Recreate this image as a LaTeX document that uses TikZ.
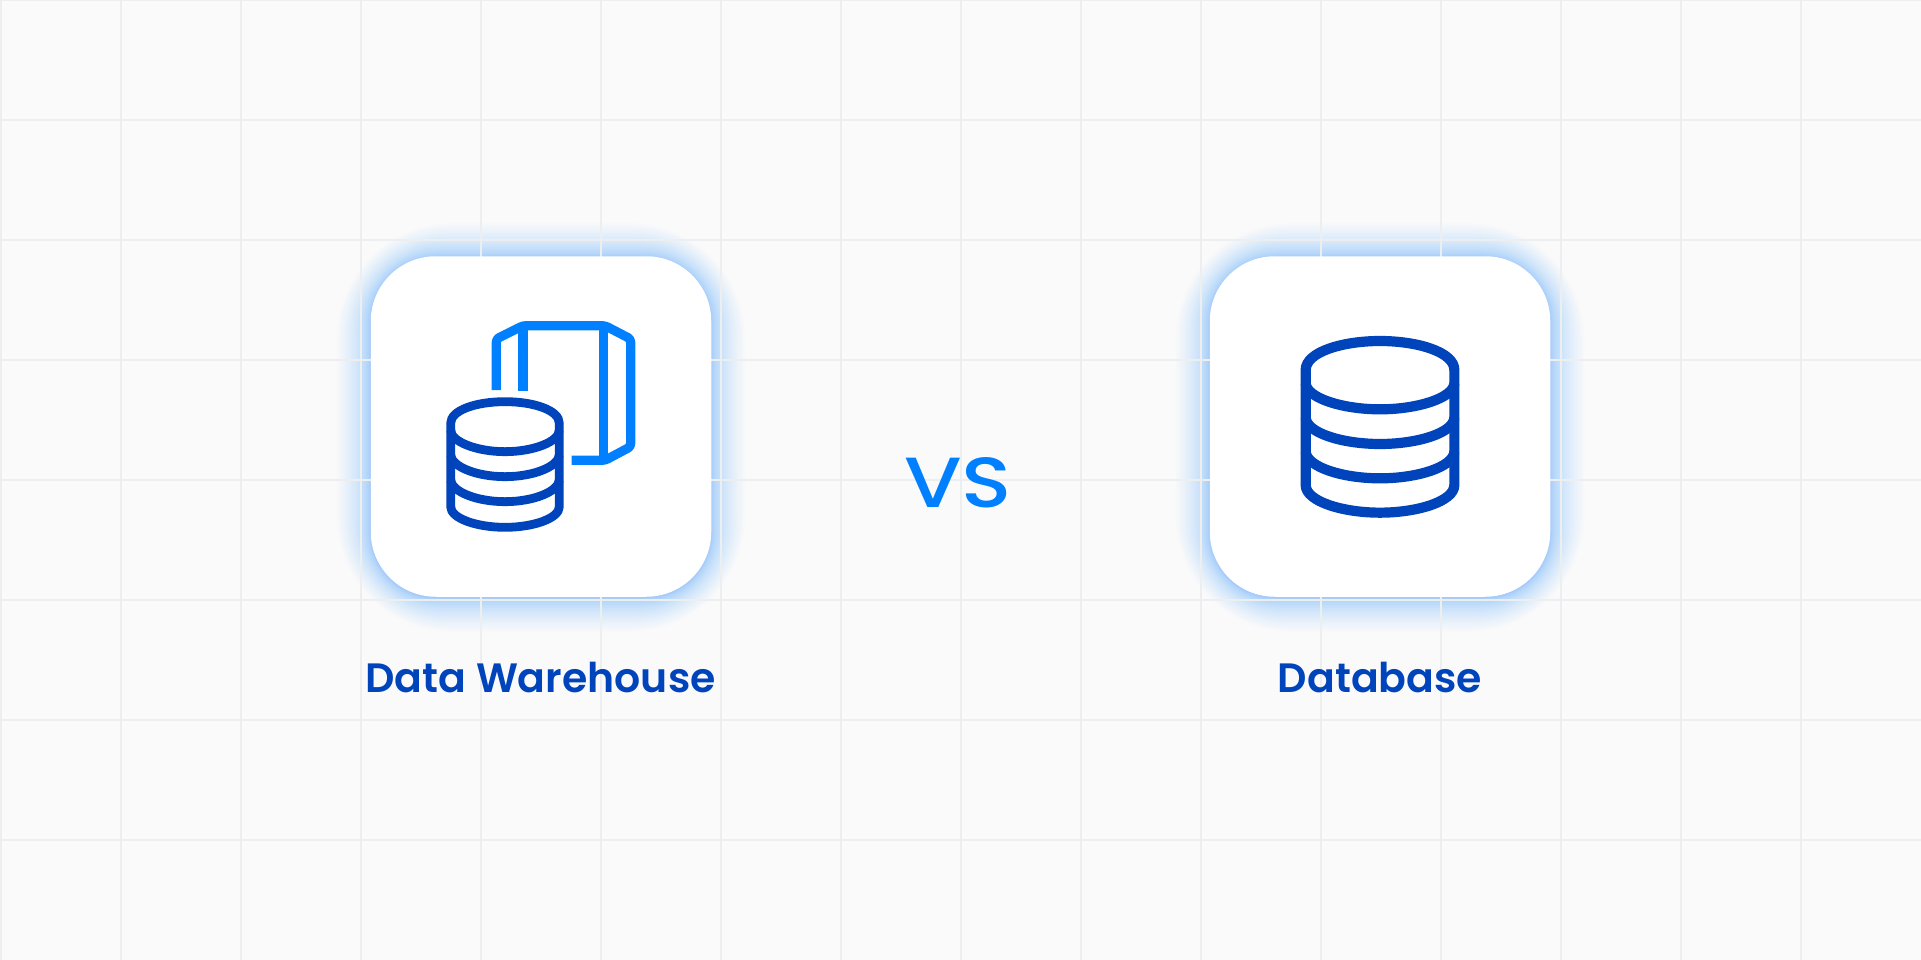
\documentclass[tikz,border=0pt]{standalone}
\usepackage{fontspec}
\setmainfont{Poppins}[BoldFont=Poppins SemiBold]
\newfontfamily\vsfont{Poppins Medium}[FakeStretch=1.17]
\definecolor{bgc}{HTML}{FAFAFA}
\definecolor{gridc}{HTML}{EDEEEF}
\definecolor{dblue}{HTML}{0044BB}
\definecolor{lblue}{HTML}{0080FF}
\tikzset{
  gridline/.style={draw=gridc,line width=2pt},
  cardbox/.style={fill=white,draw=none,rounded corners=65pt,minimum width=340.5pt,minimum height=340.5pt,inner sep=0pt},
  glow/.style={fill=lblue,fill opacity=0.014,draw=none},
  labeltext/.style={text=dblue,font=\bfseries\fontsize{41}{50}\selectfont,anchor=base,inner sep=0pt},
  vstext/.style={text=lblue,font=\vsfont\fontsize{71}{80}\selectfont,anchor=base,inner sep=0pt},
  darkline/.style={draw=dblue,line width=8.8pt,line join=miter},
  lightline/.style={draw=lblue,line width=9.2pt,line join=round},
  iconzoom/.style={x=0.33333pt,y=-0.33333pt}
}
\begin{document}
\begin{tikzpicture}[x=1pt,y=-1pt]
\useasboundingbox (0,0) rectangle (1921,960);
\fill[bgc] (0,0) rectangle (1921,960);
% glow
\foreach \cx in {541,1380}{
  \foreach \i in {1,...,24}{
    \pgfmathsetmacro{\d}{34*(\i/24)^1.8}
    \pgfmathsetmacro{\hw}{170.25+\d}
    \pgfmathsetmacro{\rr}{65+1.5*\d}
    \fill[glow,rounded corners=\rr pt] (\cx-\hw,427.5-\hw) rectangle (\cx+\hw,427.5+\hw);
  }
}
% grid
\foreach \gx in {0.5,120.5,...,1900}{ \draw[gridline] (\gx,0) -- (\gx,960); }
\foreach \gy in {0,120,...,900}{ \draw[gridline] (0,\gy) -- (1921,\gy); }
% cards
\node[cardbox] (cardA) at (541,426.5) {};
\node[cardbox] (cardB) at (1380,426.5) {};
% texts
\node[labeltext] (labelA) at (540.5,692.7) {Data Warehouse};
\node[labeltext] (labelB) at (1380,692.7) {Database};
\node[vstext] (vs) at (958,507.5) {VS};
% warehouse icon
\begin{scope}[shift={(340,230)},iconzoom]
  \draw[lightline,rounded corners=3pt] (469,480) -- (469,327) -- (549,287) -- (795,287) -- (872,327) -- (872,650) -- (795,691) -- (695,691);
  \draw[lightline] (549,287) -- (549,483);
  \draw[lightline] (791,287) -- (791,691);
  \draw[darkline] (332,580) .. controls (332,540) and (410,515) .. (495,515) .. controls (580,515) and (658,540) .. (658,580) -- (658,830) .. controls (658,865) and (580,892) .. (495,892) .. controls (410,892) and (332,865) .. (332,830) -- cycle;
  \draw[darkline] (332,600) .. controls (332,635) and (410,665) .. (495,665) .. controls (580,665) and (658,635) .. (658,600);
  \draw[darkline] (332,675) .. controls (335,710) and (410,740) .. (495,740) .. controls (580,740) and (655,710) .. (658,675);
  \draw[darkline] (332,750) .. controls (335,785) and (410,815) .. (495,815) .. controls (580,815) and (655,785) .. (658,750);
\end{scope}
% database icon
\begin{scope}[shift={(1190,230)},iconzoom]
  \draw[darkline,line width=10.2pt] (347,765) -- (347,420) .. controls (347,365) and (460,333) .. (570,333) .. controls (680,333) and (793,365) .. (793,420) -- (793,765) .. controls (793,815) and (680,848) .. (570,848) .. controls (460,848) and (347,815) .. (347,765) -- cycle;
  \draw[darkline,line width=10.2pt] (347,460) .. controls (350,505) and (460,538) .. (570,538) .. controls (680,538) and (790,505) .. (793,460);
  \draw[darkline,line width=10.2pt] (347,563) .. controls (350,610) and (460,642) .. (570,642) .. controls (680,642) and (790,610) .. (793,563);
  \draw[darkline,line width=10.2pt] (347,665) .. controls (350,712) and (460,745) .. (570,745) .. controls (680,745) and (790,712) .. (793,665);
\end{scope}
\end{tikzpicture}
\end{document}
